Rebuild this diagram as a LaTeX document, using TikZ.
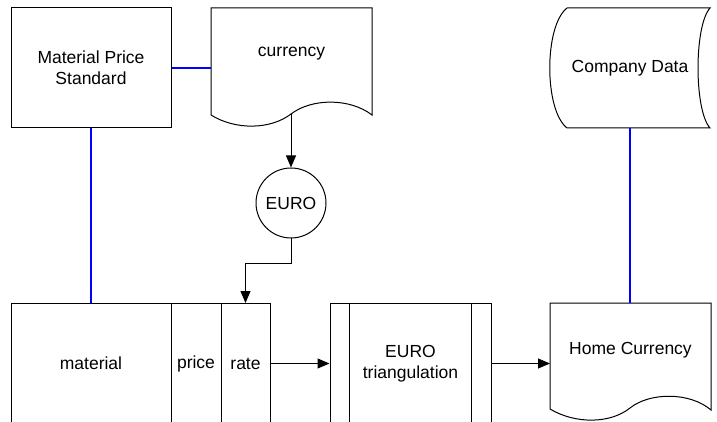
\documentclass[tikz,border=0pt]{standalone}
\usepackage{fontspec}
\setmainfont{Liberation Sans}
\usetikzlibrary{arrows.meta}
\begin{document}
\begin{tikzpicture}[x=0.5pt,y=-0.5pt,line width=0.5pt,font=\fontsize{8.75}{10.5}\selectfont,
	box/.style={draw,inner sep=0pt,minimum height=60pt,align=center},
	relline/.style={draw=blue,line width=0.65pt},
	flow/.style={-{Triangle[length=6pt,width=5pt]}}]
	\useasboundingbox (0,0) rectangle (717,422);
	% top row
	\node[box,minimum width=80pt] (mps) at (91,68) {Material Price\\Standard};
	\draw (211,8) -- (372,8) -- (372,115) .. controls (350,98) and (312,98) .. (291,114) .. controls (270,130) and (235,130) .. (211,115) -- cycle;
	\node (currency) at (291.5,54) {currency};
	\coordinate (curwave) at (291,114);
	\coordinate (curleft) at (211,68);
	\node[circle,draw,minimum size=35pt,inner sep=0pt] (euro) at (291,203) {EURO};
	\draw (567,8) -- (710,8) .. controls (694,26) and (694,110) .. (710,128) -- (567,128) .. controls (544,110) and (544,26) .. (567,8);
	\node (company) at (630,68) {Company Data};
	\coordinate (compbot) at (630,128);
	% bottom row
	\node[box,minimum width=80pt] (material) at (91,363.5) {material};
	\node[box,minimum width=25pt] (price) at (196,363.5) {price};
	\node[box,minimum width=24.5pt] (rate) at (245.5,363.5) {rate};
	\node[box,minimum width=80.5pt] (triang) at (410.5,363.5) {EURO\\triangulation};
	\draw ([xshift=10pt]triang.north west) -- ([xshift=10pt]triang.south west);
	\draw ([xshift=-10pt]triang.north east) -- ([xshift=-10pt]triang.south east);
	\draw (550,303) -- (711,303) -- (711,410) .. controls (690,392) and (650,392) .. (630,408) .. controls (610,424) and (575,424) .. (550,409) -- cycle;
	\node (home) at (630.5,350) {Home Currency};
	\coordinate (hometop) at (630,303);
	\coordinate (homeleft) at (550,363.5);
	% links
	\draw[relline] (mps.east) -- (curleft);
	\draw[relline] (mps.south) -- (material.north);
	\draw[relline] (compbot) -- (hometop);
	\draw[flow] (curwave) -- (euro);
	\draw[flow] (euro.south) -- ++(0,25) -| (rate);
	\draw[flow] (rate) -- (triang);
	\draw[flow] (triang) -- (homeleft);
\end{tikzpicture}
\end{document}
